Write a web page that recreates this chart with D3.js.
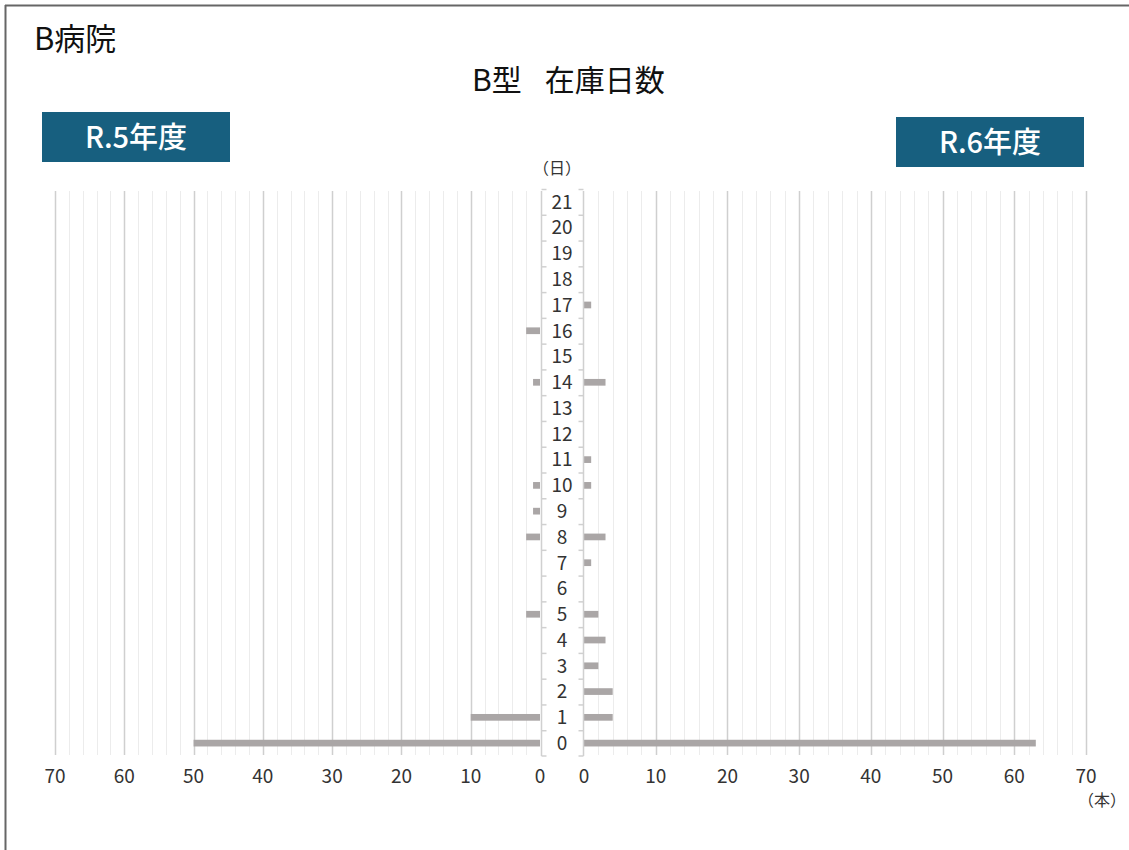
<!DOCTYPE html>
<html>
<head>
<meta charset="utf-8">
<script src="https://cdn.jsdelivr.net/npm/d3@7"></script>
<style>
body { margin: 0; background: #fff; }
svg { display: block; font-family: "Noto Sans CJK JP", "Noto Sans", sans-serif; }
</style>
</head>
<body>
<svg id="chart" width="1129" height="850"></svg>
<script>

// 在庫日数 0 - 21
var days = d3.range(0, 22);
// R.5年度 本数
var r5Values = [50, 10, 0, 0, 0, 2, 0, 0, 2, 1, 1, 0, 0, 0, 1, 0, 2, 0, 0, 0, 0, 0];
// R.6年度 本数
var r6Values = [63, 4, 4, 2, 3, 2, 0, 1, 3, 0, 1, 1, 0, 0, 3, 0, 0, 1, 0, 0, 0, 0];
var xTicks = [0, 10, 20, 30, 40, 50, 60, 70];

var svg = d3.select("#chart");

var barColor = "#aaa6a6";
var boxColor = "#175f7f";

var plotTop = 189, plotBottom = 756;

var yScale = d3.scaleBand()
	.domain(days.slice().reverse())
	.range([plotTop, plotBottom])
	.paddingInner(0.74)
	.paddingOuter(0.37);

var yStep = d3.scaleBand().domain(days.slice().reverse()).range([plotTop, plotBottom]);

var xLeft = d3.scaleLinear().domain([0, 70]).range([540, 55]);
var xRight = d3.scaleLinear().domain([0, 70]).range([584, 1086]);

// frame
svg.append("line").attr("x1", 5).attr("x2", 1129).attr("y1", 5.5).attr("y2", 5.5)
	.attr("stroke", "#666").attr("stroke-width", 2);
svg.append("line").attr("x1", 5.5).attr("x2", 5.5).attr("y1", 5).attr("y2", 850)
	.attr("stroke", "#666").attr("stroke-width", 2);

svg.append("text").attr("x", 34).attr("y", 50).attr("font-size", 31).attr("fill", "#111").text("B病院");

var title = svg.append("text").attr("x", 472).attr("y", 91).attr("font-size", 30).attr("fill", "#111");
title.append("tspan").text("B型");
title.append("tspan").attr("dx", 23).text("在庫日数");

// year boxes
function yearBox(x, y, label) {
	svg.append("rect").attr("x", x).attr("y", y).attr("width", 188).attr("height", 50).attr("fill", boxColor);
	svg.append("text").attr("x", x + 94).attr("y", y + 36).attr("text-anchor", "middle")
		.attr("font-size", 29).attr("font-weight", 500).attr("fill", "#fff").text(label);
}
yearBox(42, 112, "R.5年度");
yearBox(896, 117, "R.6年度");

// gridlines
function drawGrid(scale) {
	var minor = d3.range(2, 71, 2).filter(d => d % 10 != 0);
	svg.append("g").selectAll("line").data(minor).enter().append("line")
		.attr("x1", d => Math.round(scale(d)) + 0.5).attr("x2", d => Math.round(scale(d)) + 0.5)
		.attr("y1", plotTop + 2).attr("y2", plotBottom - 1)
		.attr("stroke", "#ececec").attr("stroke-width", 1);
	svg.append("g").selectAll("line").data(xTicks.filter(d => d > 0)).enter().append("line")
		.attr("x1", d => Math.round(scale(d)) + 0.5).attr("x2", d => Math.round(scale(d)) + 0.5)
		.attr("y1", plotTop + 2).attr("y2", plotBottom - 1)
		.attr("stroke", "#cfcfcf").attr("stroke-width", 1.5);
	svg.append("g").selectAll("text").data(xTicks).enter().append("text")
		.attr("x", d => scale(d)).attr("y", 783).attr("text-anchor", "middle")
		.attr("font-size", 19).attr("fill", "#333").text(d => d);
}
drawGrid(xLeft);
drawGrid(xRight);

// bars
svg.append("g").selectAll("rect").data(days.filter(d => r5Values[d] > 0)).enter().append("rect")
	.attr("x", d => xLeft(r5Values[d])).attr("y", d => yScale(d))
	.attr("width", d => xLeft(0) - xLeft(r5Values[d])).attr("height", yScale.bandwidth())
	.attr("fill", barColor);
svg.append("g").selectAll("rect").data(days.filter(d => r6Values[d] > 0)).enter().append("rect")
	.attr("x", xRight(0)).attr("y", d => yScale(d))
	.attr("width", d => xRight(r6Values[d]) - xRight(0)).attr("height", yScale.bandwidth())
	.attr("fill", barColor);

// center axis
var axisG = svg.append("g");
[[541.5, 5], [583.5, -5]].forEach(function(a) {
	axisG.append("line").attr("x1", a[0]).attr("x2", a[0]).attr("y1", plotTop + 2).attr("y2", plotBottom)
		.attr("stroke", "#d0d0d0").attr("stroke-width", 1.5);
	axisG.append("g").selectAll("line").data(days.concat([-1])).enter().append("line")
		.attr("x1", a[0]).attr("x2", a[0] + a[1])
		.attr("y1", d => d < 0 ? plotBottom : yStep(d) + 0.5)
		.attr("y2", d => d < 0 ? plotBottom : yStep(d) + 0.5)
		.attr("stroke", "#d0d0d0").attr("stroke-width", 1.5);
});
axisG.append("g").selectAll("text").data(days).enter().append("text")
	.attr("x", 562).attr("y", d => yStep(d) + yStep.bandwidth() / 2)
	.attr("dy", "0.36em").attr("text-anchor", "middle")
	.attr("font-size", 19).attr("fill", "#333").text(d => d);

svg.append("text").attr("x", 557).attr("y", 174).attr("text-anchor", "middle")
	.attr("font-size", 16).attr("fill", "#333").text("（日）");
svg.append("text").attr("x", 1102).attr("y", 806).attr("text-anchor", "middle")
	.attr("font-size", 16).attr("fill", "#333").text("（本）");

</script>
</body>
</html>
